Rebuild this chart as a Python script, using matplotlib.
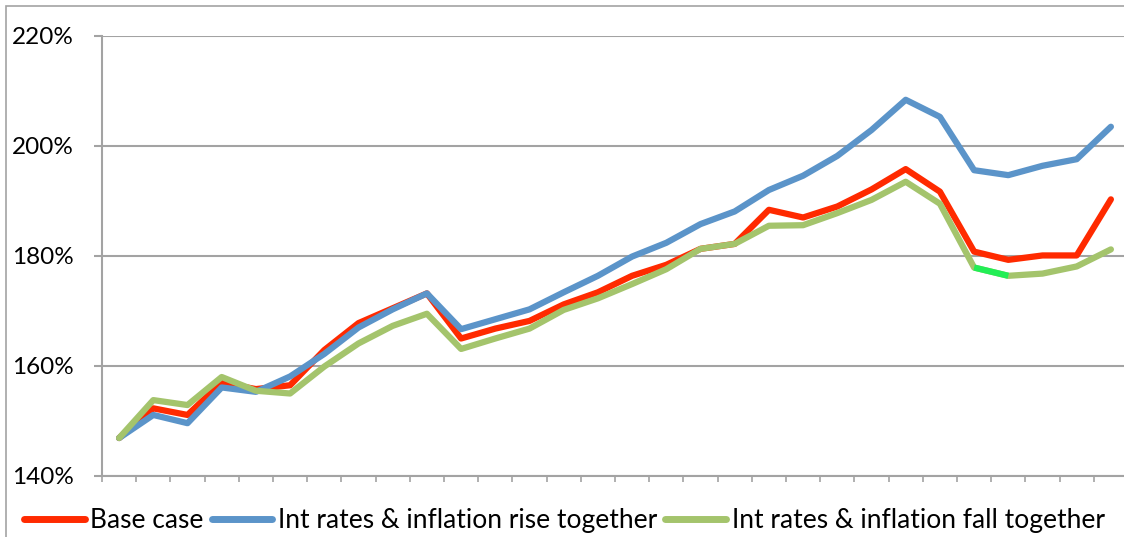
import numpy as np
import matplotlib.pyplot as plt
from matplotlib.patches import Rectangle
from matplotlib.ticker import FuncFormatter, FixedLocator

plt.rcParams['font.family'] = ['Lato', 'DejaVu Sans']

# valores em % (30 periodos)
base_case = [146.9, 152.3, 151.1, 157.0, 155.8, 156.5, 162.9, 167.8, 170.5, 173.2,
             165.0, 166.8, 168.2, 171.2, 173.4, 176.4, 178.4, 181.3, 182.2, 188.4,
             187.0, 189.0, 192.1, 195.8, 191.7, 180.8, 179.3, 180.1, 180.1, 190.3]
rise_together = [146.9, 151.1, 149.6, 156.1, 155.3, 158.1, 162.2, 167.0, 170.3, 173.2,
                 166.7, 168.5, 170.3, 173.4, 176.4, 179.9, 182.4, 185.8, 188.1, 192.0,
                 194.6, 198.2, 202.9, 208.4, 205.3, 195.6, 194.7, 196.4, 197.6, 203.5]
fall_together = [146.9, 153.8, 152.9, 158.0, 155.5, 155.0, 159.9, 164.1, 167.3, 169.5,
                 163.1, 165.0, 166.8, 170.2, 172.3, 174.9, 177.6, 181.3, 182.2, 185.5,
                 185.6, 187.8, 190.2, 193.5, 189.5, 177.9, 176.4, 176.8, 178.1, 181.2]
labels = ['Base case', 'Int rates & inflation rise together', 'Int rates & inflation fall together']

x = np.arange(len(base_case))
cor_vermelho = '#FF2A00'
cor_azul = '#5B94C9'
cor_verde = '#A4C46C'
cinza = '#A3A3A3'

fig = plt.figure(figsize=(11.24, 5.37), dpi=100)
ax = fig.add_axes([102 / 1124, 61 / 537, 1026 / 1124, 440 / 537])

# moldura externa do grafico
fig.patches.append(Rectangle((6 / 1124, -0.1), 1.2, 1 - 6 / 537 + 0.1, transform=fig.transFigure,
                             fill=False, edgecolor=cinza, linewidth=1.2))

kw = dict(linewidth=4.5, solid_joinstyle='round', solid_capstyle='round')
ax.plot(x, base_case, color=cor_vermelho, label=labels[0], **kw)
ax.plot(x, rise_together, color=cor_azul, label=labels[1], **kw)
ax.plot(x, fall_together, color=cor_verde, label=labels[2], **kw)
# trecho destacado da serie verde
ax.plot(x[25:27], fall_together[25:27], color='#22EE55', linewidth=4.5, solid_capstyle='butt')

ax.set_xlim(-0.5, len(x) - 0.5)
ax.set_ylim(140, 220)
ax.yaxis.set_major_locator(FixedLocator([140, 160, 180, 200, 220]))
ax.yaxis.set_major_formatter(FuncFormatter(lambda v, p: f'{v:.0f}%'))
ax.xaxis.set_major_locator(FixedLocator(np.arange(-0.5, len(x), 1)))
ax.set_xticklabels([])

ax.grid(axis='y', color=cinza, linewidth=1.5)
ax.set_axisbelow(True)
for s in ['top', 'right']:
    ax.spines[s].set_visible(False)
for s in ['left', 'bottom']:
    ax.spines[s].set_color(cinza)
    ax.spines[s].set_linewidth(1.5)
ax.tick_params(axis='y', colors=cinza, labelcolor='black', length=6, width=1.5, pad=14, labelsize=17.5)
ax.tick_params(axis='x', colors=cinza, length=4, width=1.2)

leg = fig.legend(loc='lower left', bbox_to_anchor=(20 / 1124, 0.0), ncol=3, frameon=False,
                 fontsize=19, handlelength=2.3, handletextpad=0.22, columnspacing=0.3,
                 borderaxespad=0.0, borderpad=0.15)
for h in leg.get_lines():
    h.set_linewidth(5)

fig.savefig('out.png', dpi=100)
